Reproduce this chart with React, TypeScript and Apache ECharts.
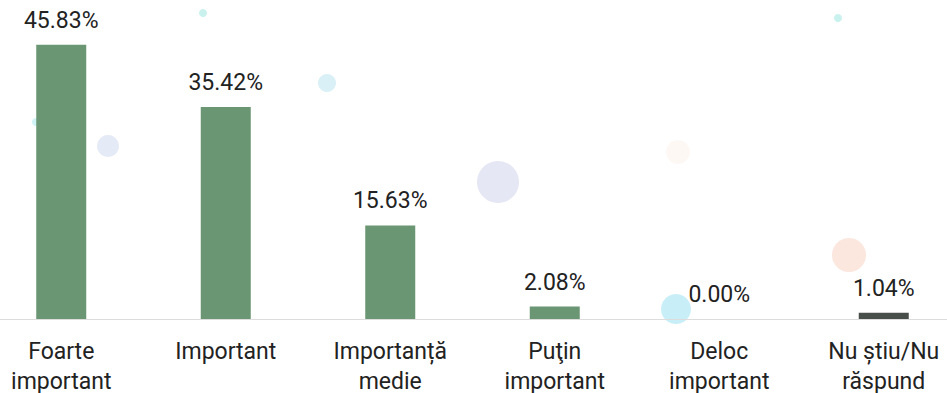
import React, { useEffect, useRef } from "react";
import * as echarts from "echarts";

const categories = [
  "Foarte\nimportant",
  "Important",
  "Importanță\nmedie",
  "Puţin\nimportant",
  "Deloc\nimportant",
  "Nu știu/Nu\nrăspund",
];
const values = [45.83, 35.42, 15.63, 2.08, 0.0, 1.04];
const barColors = ["#6b9673", "#6b9673", "#6b9673", "#6b9673", "#6b9673", "#484e4a"];

const OFFSET = 21;

export default function App() {
  const ref = useRef<HTMLDivElement>(null);
  useEffect(() => {
    document.body.style.margin = "0";
    document.body.style.overflow = "hidden";
    const chart = echarts.init(ref.current!, null, { renderer: "svg" });
    const dots = [
      { x: 498, y: 182, r: 21, c: "rgba(150,160,215,0.25)" },
      { x: 108, y: 146, r: 11, c: "rgba(150,170,225,0.25)" },
      { x: 327, y: 83, r: 9, c: "rgba(120,200,225,0.28)" },
      { x: 676, y: 309, r: 15, c: "rgba(110,210,235,0.38)" },
      { x: 849, y: 255, r: 17, c: "rgba(245,170,140,0.28)" },
      { x: 678, y: 152, r: 12, c: "rgba(245,200,170,0.12)" },
      { x: 203, y: 13, r: 4, c: "rgba(120,220,210,0.4)" },
      { x: 838, y: 18, r: 4, c: "rgba(120,220,210,0.4)" },
      { x: 36, y: 122, r: 4, c: "rgba(120,220,230,0.35)" },
    ];
    chart.setOption({
      animation: false,
      backgroundColor: "#ffffff",
      graphic: dots.map((d) => ({
        type: "circle",
        z: -10,
        silent: true,
        shape: { cx: d.x + OFFSET, cy: d.y, r: d.r },
        style: { fill: d.c },
      })),
      grid: { left: 0, right: 0, top: 0, bottom: 74, outerBoundsMode: "none", containLabel: false },
      xAxis: {
        type: "category",
        data: categories,
        axisLine: { show: true, lineStyle: { color: "#dcdcdc", width: 1 } },
        axisTick: { show: false },
        axisLabel: {
          color: "#222222",
          fontFamily: "Roboto",
          fontSize: 23,
          lineHeight: 30,
          margin: 17,
          interval: 0,
        },
      },
      yAxis: {
        type: "value",
        min: 0,
        max: 53.3,
        show: false,
        splitLine: { show: false },
      },
      series: [
        {
          type: "bar",
          data: values.map((v, i) => ({ value: v, itemStyle: { color: barColors[i] } })),
          barWidth: 50,
          label: {
            show: true,
            position: "top",
            distance: 13,
            color: "#222222",
            fontFamily: "Roboto",
            fontSize: 23,
            formatter: (p: any) => p.value.toFixed(2) + "%",
          },
        },
      ],
    });
    return () => chart.dispose();
  }, []);
  return (
    <div style={{ width: 947, height: 393, overflow: "hidden", position: "relative" }}>
      <div
        ref={ref}
        style={{ width: 947 + OFFSET + 19, height: 393, position: "absolute", left: -OFFSET, top: 0 }}
      />
    </div>
  );
}
